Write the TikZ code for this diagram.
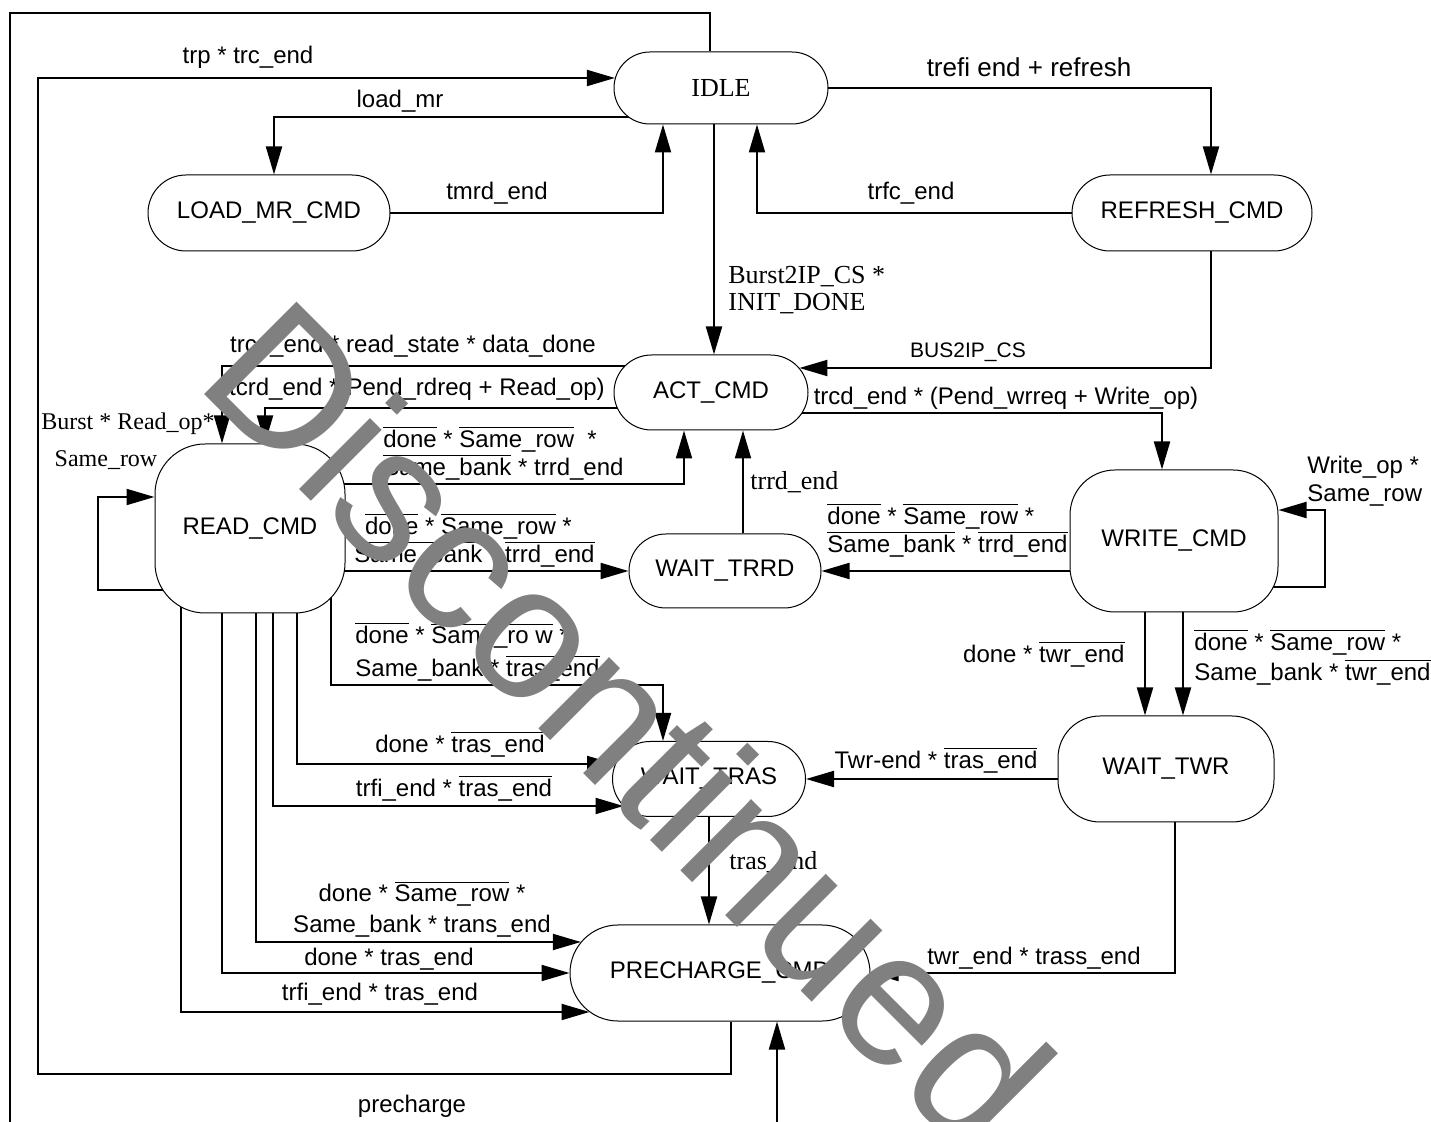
\documentclass[tikz,border=0pt]{standalone}
\usepackage{fontspec}
\setmainfont{Liberation Sans}
\newfontfamily\tmsfont{Liberation Serif}
\usetikzlibrary{arrows.meta, positioning}
\pgfdeclarelayer{bg}
\pgfsetlayers{bg,main}
\newcommand{\ovl}[1]{$\overline{\mbox{#1}}$}

\begin{document}
\begin{tikzpicture}[x=0.5pt, y=-0.5pt,
    state/.style={rectangle, draw=black, fill=white, line width=0.5pt, rounded corners=18pt, minimum width=97pt, minimum height=37pt, inner sep=0pt, font=\fontsize{12}{14}\selectfont},
    cond/.style={inner sep=1pt, font=\fontsize{12}{14}\selectfont},
    tcond/.style={inner sep=1pt, font=\tmsfont\fontsize{13}{13.5}\selectfont},
    arrow/.style={draw=black, line width=1pt, -{Triangle[length=14pt, width=8pt]}},
    wire/.style={draw=black, line width=1pt}]

    \useasboundingbox (0,0) rectangle (1431,1122);

    % states
    \node [state, minimum width=107pt, minimum height=36pt, font=\tmsfont\fontsize{13}{14}\selectfont] (idle) at (721,88) {IDLE};
    \node [state, minimum width=121pt, minimum height=38pt, rounded corners=19pt] (loadmr) at (269,213) {LOAD\_MR\_CMD};
    \node [state, minimum width=120pt, minimum height=38pt, rounded corners=19pt] (refresh) at (1192,213) {REFRESH\_CMD};
    \node [state, minimum width=97pt, minimum height=37.5pt, rounded corners=18.75pt] (act) at (711,392.5) {ACT\_CMD};
    \node [state, minimum width=95pt, minimum height=84.5pt, rounded corners=25pt] (read) at (250,528.5) {READ\_CMD};
    \node [state, minimum width=96pt, minimum height=37pt, rounded corners=18.5pt] (trrd) at (725,571) {WAIT\_TRRD};
    \node [state, minimum width=104pt, minimum height=71pt, rounded corners=22.5pt] (write) at (1174,541) {WRITE\_CMD};
    \node [state, minimum width=108pt, minimum height=53pt, rounded corners=21pt] (twr) at (1166,769) {WAIT\_TWR};
    \node [state, minimum width=96.5pt, minimum height=37.5pt, rounded corners=18.75pt] (tras) at (709,779) {WAIT\_TRAS};
    \node [state, minimum width=150pt, minimum height=48pt, rounded corners=24pt] (prech) at (720,973) {PRECHARGE\_CMD};

    \coordinate (outB) at (10,1122);
    \coordinate (pcin) at (777,1122);

    \begin{pgfonlayer}{bg}
    \draw [wire] ([xshift=-5.5pt]idle.north) |- (10,13) -- (outB);
    \draw [arrow] (pcin) -- (pcin |- prech.south);
    \draw [arrow] ([xshift=5.5pt]prech.south) |- (38,1074) |- ([xshift=0.7pt,yshift=5pt]idle.west);
    \draw [arrow] ([yshift=-14.5pt]idle.center) -| ([xshift=2.5pt]loadmr.north);
    \draw [arrow] (loadmr.center) -| ([xshift=-29pt]idle.south);
    \draw [arrow] (idle.center) -| ([xshift=9.5pt]refresh.north);
    \draw [arrow] (refresh.center) -| ([xshift=18pt]idle.south);
    \draw [arrow] ([xshift=-3.5pt]idle.south) -- ([xshift=-3.5pt]idle.south |- act.north);
    \draw [arrow] ([xshift=9.5pt]refresh.center) |- ([xshift=-4.55pt,yshift=12.25pt]act.east);
    \draw [arrow] ([yshift=13.25pt]act.center) -| ([xshift=-14pt]read.north);
    \draw [arrow] ([yshift=-7.75pt]act.center) -| ([xshift=7.5pt]read.north);
    \draw [arrow] ([yshift=-31pt]read.center) -- ++(-152,0) |- ([yshift=15.75pt]read.west);
    \draw [arrow] ([yshift=22pt]read.center) -| ([xshift=-13.5pt]act.south);
    \draw [arrow] (read.center |- trrd.west) -- (trrd.west);
    \draw [arrow] ([xshift=9pt]trrd.north) -- ([xshift=9pt]trrd.north |- act.south);
    \draw [arrow] ([yshift=-10.5pt]act.center) -| ([xshift=-6pt]write.north);
    \draw [arrow] ([yshift=-23pt]write.center) -- ++(151,0) |- ([yshift=15.5pt]write.east);
    \draw [arrow] (write.center |- trrd.east) -- (trrd.east);
    \draw [arrow] ([xshift=-14.5pt]write.center) -- ([xshift=-14.5pt]write.center |- twr.north);
    \draw [arrow] ([xshift=4.5pt]write.center) -- ([xshift=4.5pt]write.center |- twr.north);
    \draw [arrow] (twr.center |- tras.east) -- (tras.east);
    \draw [arrow] ([xshift=4.5pt]twr.center) |- (prech.east);
    \draw [arrow] (tras.center) -- (tras.center |- prech.north);
    % fan out of READ_CMD
    \draw [arrow] ([xshift=40.5pt]read.center) -- ++(0,157) -| ([xshift=-23pt]tras.north);
    \draw [arrow] ([xshift=23.5pt]read.center) |- ([xshift=1.55pt,yshift=7.5pt]tras.west);
    \draw [arrow] ([xshift=11.5pt]read.center) |- ([xshift=5.75pt,yshift=-13.5pt]tras.west);
    \draw [arrow] ([xshift=3pt]read.center) |- ([xshift=5.7pt,yshift=15.5pt]prech.west);
    \draw [arrow] ([xshift=-14pt]read.center) |- (prech.west);
    \draw [arrow] ([xshift=-34.5pt]read.center) |- ([xshift=10pt,yshift=-19.5pt]prech.west);
    \end{pgfonlayer}

    % conditions
    \node [cond] (lTrp) at (248,57) {trp * trc\_end};
    \node [cond] (lLoad) at (400,101) {load\_mr};
    \node [cond] (lTmrd) at (497,193) {tmrd\_end};
    \node [cond, font=\fontsize{13}{14}\selectfont] (lTrefi) at (1029,67) {trefi end + refresh};
    \node [cond] (lTrfc) at (911,193) {trfc\_end};
    \node [tcond, anchor=west, align=left] (lBurst) at (726,290) {Burst2IP\_CS *\\INIT\_DONE};
    \node [cond, font=\fontsize{10.5}{12}\selectfont] (lBus) at (968,352) {BUS2IP\_CS};
    \node [cond] (lRdState) at (413,346) {trcd\_end * read\_state * data\_done};
    \node [cond] (lRdReq) at (417,389) {tcrd\_end *(Pend\_rdreq + Read\_op)};
    \node [tcond, font=\tmsfont\fontsize{12}{13}\selectfont] (lLoopA) at (128,424) {Burst * Read\_op*};
    \node [tcond, font=\tmsfont\fontsize{12}{13}\selectfont] (lLoopB) at (106,460) {Same\_row};
    \node [cond, anchor=west, align=left] (lRdAct) at (381,453) {\ovl{done} * \ovl{Same\_row}\ \ *\\\ovl{Same\_bank} * trrd\_end};
    \node [cond, anchor=west, align=left] (lRdTrrd) at (352,540) {\ \,\ovl{done} * \ovl{Same\_row} *\\\ovl{Same\_bank} * \ovl{trrd\_end}};
    \node [tcond, anchor=west] (lTrrd) at (748,482) {trrd\_end};
    \node [cond] (lWr) at (1006,398) {trcd\_end * (Pend\_wrreq + Write\_op)};
    \node [cond, anchor=west, align=left] (lWrLoop) at (1305,481) {Write\_op *\\Same\_row};
    \node [cond, anchor=west, align=left] (lWrTrrd) at (825,530) {\ovl{done} * \ovl{Same\_row} *\\\ovl{Same\_bank} * \ovl{trrd\_end}};
    \node [cond, anchor=west, align=left, font=\fontsize{12}{16.5}\selectfont] (lRdTras) at (353,652) {\ovl{done} * \ovl{Same\_ro w} *\\Same\_bank * \ovl{tras\_end}};
    \node [cond] (lRdTrasA) at (460,744) {done * \ovl{tras\_end}};
    \node [cond] (lRdTrasB) at (454,788) {trfi\_end * \ovl{tras\_end}};
    \node [cond] (lTwrTras) at (936,760) {Twr-end * \ovl{tras\_end}};
    \node [cond, anchor=east] (lTwrA) at (1127,654) {done * \ovl{twr\_end}};
    \node [cond, anchor=west, align=left, font=\fontsize{12}{15}\selectfont] (lTwrB) at (1192,657) {\ovl{done} * \ovl{Same\_row} *\\Same\_bank * \ovl{twr\_end}};
    \node [tcond, anchor=west] (lTras) at (727,862) {tras\_end};
    \node [cond, align=center, font=\fontsize{12}{15.5}\selectfont] (lRdPreA) at (422,909) {done * \ovl{Same\_row} *\\Same\_bank * trans\_end};
    \node [cond] (lRdPreB) at (389,959) {done * tras\_end};
    \node [cond] (lRdPreC) at (380,994) {trfi\_end * tras\_end};
    \node [cond] (lTwrPre) at (1034,958) {twr\_end * trass\_end};
    \node [cond] (lPre) at (412,1106) {precharge};

    % watermark
    \node [text=black!50, inner sep=0pt, rotate=-45, font=\fontsize{95}{95}\selectfont] (mark) at (630,724) {Discontinued};

\end{tikzpicture}
\end{document}
